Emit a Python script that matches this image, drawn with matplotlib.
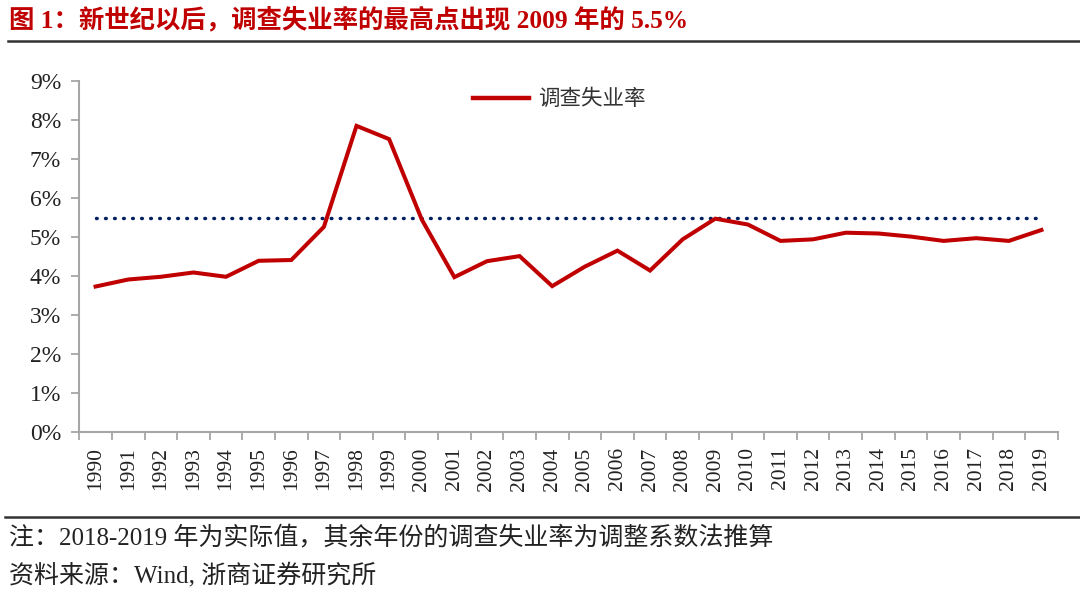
import matplotlib
matplotlib.use('Agg')
import matplotlib.pyplot as plt
from matplotlib.lines import Line2D
from matplotlib.ticker import FixedLocator, PercentFormatter

plt.rcParams['font.family'] = ['Liberation Serif', 'Noto Sans CJK SC', 'DejaVu Sans']

# 数据
years = [str(y) for y in range(1990, 2020)]
rate = [3.73, 3.91, 3.98, 4.09, 3.98, 4.39, 4.41, 5.26, 7.85, 7.51,
        5.45, 3.97, 4.38, 4.51, 3.74, 4.24, 4.65, 4.14, 4.94, 5.47,
        5.32, 4.90, 4.94, 5.11, 5.09, 5.01, 4.90, 4.97, 4.90, 5.18]
peak_level = 5.5
y_ticks = [0, 1, 2, 3, 4, 5, 6, 7, 8, 9]

title = '图 1：新世纪以后，调查失业率的最高点出现 2009 年的 5.5%'
note = '注：2018-2019 年为实际值，其余年份的调查失业率为调整系数法推算'
source = '资料来源：Wind, 浙商证券研究所'

fig = plt.figure(figsize=(10.8, 5.97), dpi=100)
ax = fig.add_axes([0.0734, 0.2764, 0.906, 0.5879])

x = list(range(len(years)))
ax.plot(x, rate, color='#C00000', linewidth=2.9, solid_joinstyle='miter',
        label='调查失业率', zorder=3)
ax.hlines(peak_level, x[0], x[-1], colors='#002060', linewidth=2.5,
          linestyles=(0, (0.2, 2.4)), capstyle='round', zorder=2)

ax.set_xlim(-0.5, len(years) - 0.5)
ax.set_ylim(0, 9)
ax.yaxis.set_major_locator(FixedLocator(y_ticks))
ax.yaxis.set_major_formatter(PercentFormatter(decimals=0))

ax.set_xticks(x)
ax.set_xticklabels(years, rotation=90, va='top', ha='center')
ax.set_xticks([i - 0.5 for i in range(len(years) + 1)], minor=True)
ax.tick_params(axis='x', which='major', length=0, pad=11, labelsize=15.5,
               labelcolor='#222222')
ax.tick_params(axis='x', which='minor', length=6, width=1.3, color='#A6A6A6')
ax.tick_params(axis='y', length=6, width=1.3, color='#A6A6A6', labelsize=17,
               labelcolor='#222222', pad=7)

for side in ('top', 'right'):
    ax.spines[side].set_visible(False)
for side in ('left', 'bottom'):
    ax.spines[side].set_color('#A6A6A6')
    ax.spines[side].set_linewidth(1.5)

leg = ax.legend(handles=[Line2D([0], [0], color='#C00000', linewidth=3.2)],
                labels=['调查失业率'], loc='upper left',
                bbox_to_anchor=(0.383, 1.035), frameon=False, handlelength=2.6,
                handletextpad=0.4, prop={'family': ['Noto Sans CJK SC'], 'size': 15.5})
for t in leg.get_texts():
    t.set_color('#333333')

# 标题和注释
fig.text(0.008, 0.968, title, color='#C00000', fontsize=18.3, fontweight='bold',
         ha='left', va='center')
fig.add_artist(Line2D([0.007, 1.0], [0.931, 0.931], color='#333333', linewidth=1.8))
fig.add_artist(Line2D([0.005, 1.0], [0.134, 0.134], color='#333333', linewidth=1.8))
fig.text(0.008, 0.099, note, color='#222222', fontsize=18, ha='left', va='center')
fig.text(0.008, 0.036, source, color='#222222', fontsize=18, ha='left', va='center')

fig.savefig('out.png', dpi=100, facecolor='white')
